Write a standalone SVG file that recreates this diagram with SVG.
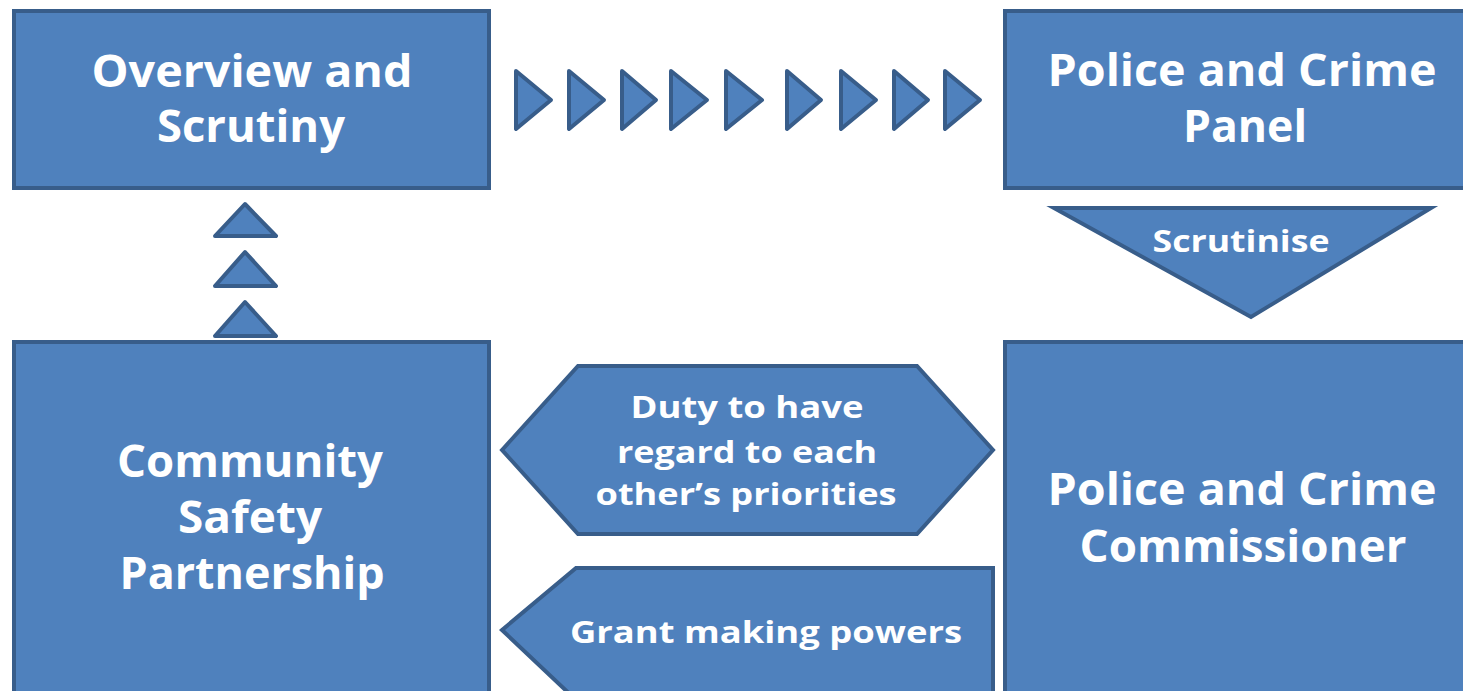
<svg xmlns="http://www.w3.org/2000/svg" width="1463" height="691" viewBox="0 0 1463 691">
<style>
.shape{fill:#4f81bd;stroke:#385d8a;stroke-width:4;stroke-linejoin:miter}
.arr{fill:#4f81bd;stroke:#385d8a;stroke-width:4;stroke-linejoin:round}
.big{font-family:"Open Sans","Liberation Sans",sans-serif;font-weight:bold;font-size:45px;fill:#ffffff;text-anchor:middle}
.mid{font-family:"Open Sans","Liberation Sans",sans-serif;font-weight:bold;font-size:31px;fill:#ffffff;text-anchor:middle}
.sm{font-family:"Open Sans","Liberation Sans",sans-serif;font-weight:bold;font-size:30px;fill:#ffffff;text-anchor:middle}
</style>
<rect width="1463" height="691" fill="#ffffff"/>
<g id="overview">
<rect class="shape" x="14" y="11" width="475" height="177"/>
<text class="big" x="252" y="87" textLength="321" lengthAdjust="spacingAndGlyphs">Overview and</text>
<text class="big" x="251" y="142" textLength="188" lengthAdjust="spacingAndGlyphs">Scrutiny</text>
</g>
<g id="panel">
<rect class="shape" x="1005" y="11" width="470" height="177"/>
<text class="big" x="1242" y="86" textLength="389" lengthAdjust="spacingAndGlyphs">Police and Crime</text>
<text class="big" x="1245" y="142" textLength="124" lengthAdjust="spacingAndGlyphs">Panel</text>
</g>
<g id="csp">
<rect class="shape" x="14" y="342" width="475" height="360"/>
<text class="big" x="250" y="477" textLength="266" lengthAdjust="spacingAndGlyphs">Community</text>
<text class="big" x="250" y="533" textLength="144" lengthAdjust="spacingAndGlyphs">Safety</text>
<text class="big" x="252" y="589" textLength="265" lengthAdjust="spacingAndGlyphs">Partnership</text>
</g>
<g id="pcc">
<rect class="shape" x="1005" y="342" width="470" height="360"/>
<text class="big" x="1242" y="505" textLength="389" lengthAdjust="spacingAndGlyphs">Police and Crime</text>
<text class="big" x="1243" y="562" textLength="327" lengthAdjust="spacingAndGlyphs">Commissioner</text>
</g>
<g id="connectors">
<g id="chevrons-right">
<polygon class="arr" points="516,71 551,100 516,129"/>
<polygon class="arr" points="569,71 604,100 569,129"/>
<polygon class="arr" points="622,71 656,100 622,129"/>
<polygon class="arr" points="671,71 707,100 671,129"/>
<polygon class="arr" points="726,71 762,100 726,129"/>
<polygon class="arr" points="787,71 821,100 787,129"/>
<polygon class="arr" points="841,71 876,100 841,129"/>
<polygon class="arr" points="894,71 928,100 894,129"/>
<polygon class="arr" points="945,71 980,100 945,129"/>
</g>
<g id="chevrons-up">
<polygon class="arr" points="245,204 276,236 215,236"/>
<polygon class="arr" points="245,252 276,286 215,286"/>
<polygon class="arr" points="245,302 276,336 215,336"/>
</g>
<g id="scrutinise">
<polygon class="shape" points="1054,208 1431,208 1251,317"/>
<text class="sm" x="1241" y="252" textLength="177" lengthAdjust="spacingAndGlyphs">Scrutinise</text>
</g>
<g id="duty">
<polygon class="shape" points="502,450 578,366 917,366 993,450 917,534 578,534"/>
<text class="mid" x="747" y="418" textLength="233" lengthAdjust="spacingAndGlyphs">Duty to have</text>
<text class="mid" x="747" y="463" textLength="260" lengthAdjust="spacingAndGlyphs">regard to each</text>
<text class="mid" x="746" y="505" textLength="301" lengthAdjust="spacingAndGlyphs">other’s priorities</text>
</g>
<g id="grant">
<polygon class="shape" points="502,630 576,568 993,568 993,700 576,700"/>
<text class="mid" x="766" y="643" textLength="392" lengthAdjust="spacingAndGlyphs">Grant making powers</text>
</g>
</g>
</svg>
